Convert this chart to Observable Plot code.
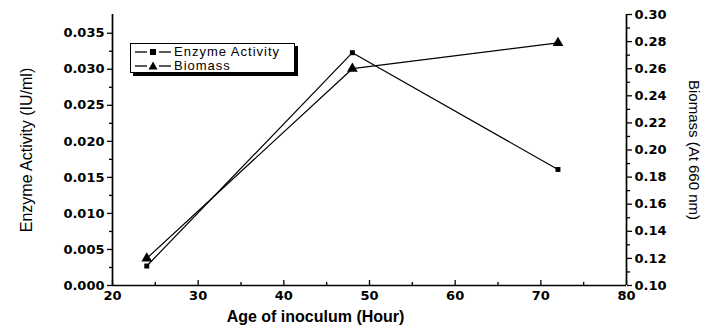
<!DOCTYPE html>
<html>
<head>
<meta charset="utf-8">
<script src="https://cdn.jsdelivr.net/npm/d3@7"></script>
<script src="https://cdn.jsdelivr.net/npm/@observablehq/plot@0.6"></script>
<style>
  html, body { margin: 0; padding: 0; background: #fff; }
  #wrap { position: relative; width: 720px; height: 334px; }
  #legend {
    position: absolute; left: 130px; top: 43px; width: 163px; height: 28px;
    border: 1px solid #000; background: #fff; box-shadow: 3px 3px 0 #000;
    font-family: "Liberation Sans", Arial, sans-serif; font-size: 13px; letter-spacing: 1px; color: #000;
  }
  #legend .row { display: flex; align-items: center; height: 13px; margin-top: 1px; }
  #legend svg { margin: 0 3px 0 4px; }
</style>
</head>
<body>
<div id="wrap"></div>
<script>
// Data
const hours = [24, 48, 72];
const enzymeActivity = [0.0027, 0.0323, 0.0161];
const biomass = [0.120, 0.260, 0.279];

// Ticks
const xTicks = [20, 30, 40, 50, 60, 70, 80];
const xMinor = [25, 35, 45, 55, 65, 75];
const leftTicks = [0, 0.005, 0.010, 0.015, 0.020, 0.025, 0.030, 0.035];
const leftMinor = [0.0025, 0.0075, 0.0125, 0.0175, 0.0225, 0.0275, 0.0325];
const rightTicks = [0.10, 0.12, 0.14, 0.16, 0.18, 0.20, 0.22, 0.24, 0.26, 0.28, 0.30];
const rightMinor = [0.11, 0.13, 0.15, 0.17, 0.19, 0.21, 0.23, 0.25, 0.27, 0.29];

const yTop = 0.0376;           // left axis top
const bLo = 0.10, bHi = 0.30;  // right axis range
const b2y = b => (b - bLo) / (bHi - bLo) * yTop;
const y2b = y => bLo + y / yTop * (bHi - bLo);

const enzData = hours.map((h, i) => ({x: h, y: enzymeActivity[i]}));
const bioData = hours.map((h, i) => ({x: h, y: b2y(biomass[i])}));

const tickFont = {fontFamily: "DejaVu Sans", fontSize: 13, fontWeight: "bold"};

const chart = Plot.plot({
  width: 720,
  height: 334,
  marginLeft: 112,
  marginRight: 94,
  marginTop: 14,
  marginBottom: 49,
  style: {fontFamily: "Liberation Sans, Arial, sans-serif", color: "#000", background: "#fff"},
  x: {domain: [20, 80]},
  y: {domain: [0, yTop]},
  marks: [
    Plot.ruleX([20], {stroke: "#000", strokeWidth: 1.7}),
    Plot.ruleX([80], {stroke: "#000", strokeWidth: 1.7}),
    Plot.ruleY([0], {stroke: "#000", strokeWidth: 1.7}),
    // left axis
    Plot.axisY(leftTicks, {anchor: "left", tickSize: 5, tickPadding: 3, tickFormat: d3.format(".3f"), label: null, strokeWidth: 1.3, ...tickFont}),
    Plot.axisY(leftMinor, {anchor: "left", tickSize: 3, tickFormat: () => "", label: null, strokeWidth: 1.3}),
    // right axis
    Plot.axisY(rightTicks.map(b2y), {anchor: "right", tickSize: 5, tickPadding: 3, tickFormat: d => d3.format(".2f")(y2b(d)), label: null, strokeWidth: 1.3, ...tickFont}),
    Plot.axisY(rightMinor.map(b2y), {anchor: "right", tickSize: 3, tickFormat: () => "", label: null, strokeWidth: 1.3}),
    // x axis
    Plot.axisX(xTicks, {anchor: "bottom", tickSize: -5, tickPadding: 10, tickFormat: d => String(d), label: null, strokeWidth: 1.3, ...tickFont}),
    Plot.axisX(xMinor, {anchor: "bottom", tickSize: -3, tickFormat: () => "", label: null, strokeWidth: 1.3}),
    // axis titles
    Plot.text(["Enzyme Activity (IU/ml)"], {frameAnchor: "left", textAnchor: "middle", dx: -86, dy: 0, rotate: -90, fontSize: 16, fontFamily: "Liberation Sans"}),
    Plot.text(["Biomass (At 660 nm)"], {frameAnchor: "right", textAnchor: "middle", dx: 67, dy: 0, rotate: 90, fontSize: 15, fontFamily: "Liberation Sans"}),
    Plot.text(["Age of inoculum (Hour)"], {frameAnchor: "bottom", textAnchor: "middle", dx: -54, dy: 36, fontSize: 16, fontWeight: "bold", fontFamily: "Liberation Sans"}),
    // series
    Plot.line(enzData, {x: "x", y: "y", stroke: "#000", strokeWidth: 1.2}),
    Plot.line(bioData, {x: "x", y: "y", stroke: "#000", strokeWidth: 1.2}),
    Plot.dot(enzData, {x: "x", y: "y", symbol: "square", r: 2.8, fill: "#000"}),
    Plot.dot(bioData, {x: "x", y: "y", symbol: "triangle", r: 4, fill: "#000"})
  ]
});

const wrap = document.getElementById("wrap");
wrap.appendChild(chart);

// Legend
const legend = document.createElement("div");
legend.id = "legend";
const items = [
  {label: "Enzyme Activity", sym: '<rect x="15" y="3" width="6" height="6" fill="#000"/>'},
  {label: "Biomass", sym: '<path d="M18,1.5 L22.5,9.5 L13.5,9.5 Z" fill="#000"/>'}
];
for (const it of items) {
  const row = document.createElement("div");
  row.className = "row";
  row.innerHTML = `<svg width="36" height="12"><line x1="0" y1="6" x2="12" y2="6" stroke="#000" stroke-width="1.3"/><line x1="24" y1="6" x2="36" y2="6" stroke="#000" stroke-width="1.3"/>${it.sym}</svg><span>${it.label}</span>`;
  legend.appendChild(row);
}
wrap.appendChild(legend);
</script>
</body>
</html>
